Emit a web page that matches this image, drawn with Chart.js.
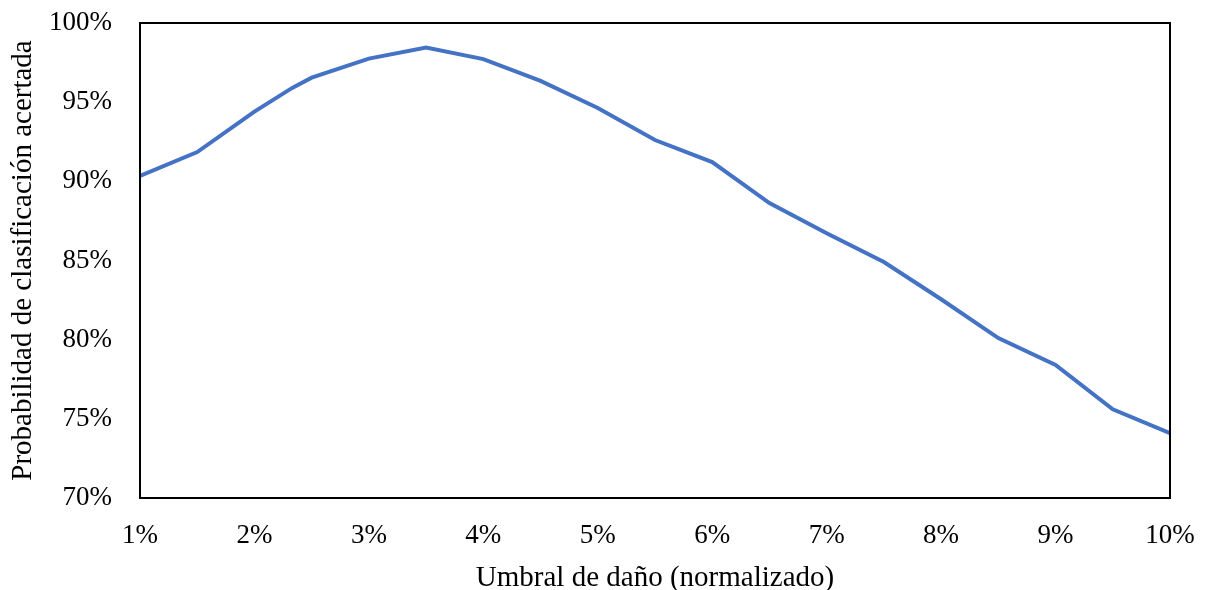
<!DOCTYPE html>
<html>
<head>
<meta charset="utf-8">
<script src="https://cdn.jsdelivr.net/npm/chart.js@4.4.1/dist/chart.umd.min.js"></script>
<style>
  html, body { margin: 0; padding: 0; background: #fff; }
  #wrap { width: 1209px; height: 590px; }
</style>
</head>
<body>
<div id="wrap"><canvas id="c" width="1209" height="590"></canvas></div>
<script>
const umbral = [1, 1.5, 2, 2.33, 2.5, 3, 3.5, 4, 4.5, 5, 5.5, 6, 6.5, 7, 7.5, 8, 8.5, 9, 9.5, 10];
const probabilidad = [90.35, 91.85, 94.4, 95.9, 96.55, 97.75, 98.45, 97.72, 96.34, 94.63, 92.61, 91.22, 88.63, 86.72, 84.9, 82.55, 80.1, 78.4, 75.6, 74.1];
const xTitle = 'Umbral de daño (normalizado)';
const yTitle = 'Probabilidad de clasificación acertada';

const frame = {
  id: 'frame',
  afterDatasetsDraw(chart) {
    const a = chart.chartArea, ctx = chart.ctx;
    ctx.save();
    ctx.strokeStyle = '#000';
    ctx.lineWidth = 2;
    ctx.strokeRect(a.left, a.top, a.right - a.left, a.bottom - a.top);
    ctx.restore();
  }
};

const fam = '"Liberation Serif", "Times New Roman", serif';
const tickFont = { family: fam, size: 27 };
const titleFont = { family: fam, size: 29 };

function zeroPad(s) { s.paddingTop = 0; s.paddingBottom = 0; s.paddingLeft = 0; s.paddingRight = 0; }

new Chart(document.getElementById('c'), {
  type: 'line',
  data: {
    datasets: [{
      data: umbral.map((x, i) => ({ x: x, y: probabilidad[i] })),
      borderColor: '#4472C4',
      borderWidth: 4,
      pointRadius: 0,
      tension: 0,
      fill: false
    }]
  },
  options: {
    responsive: false,
    animation: false,
    devicePixelRatio: 1,
    layout: { padding: { left: 0, right: 39, top: 23, bottom: 0 } },
    plugins: { legend: { display: false }, tooltip: { enabled: false } },
    scales: {
      x: {
        type: 'linear',
        min: 1, max: 10,
        grid: { display: false, drawTicks: false },
        border: { display: false },
        ticks: { stepSize: 1, color: '#000', font: tickFont, padding: 22, maxRotation: 0,
          callback: v => v + '%' },
        title: { display: true, text: xTitle, color: '#000', font: titleFont, padding: { top: 8, bottom: -6 } },
        afterFit(s) { s.height = 92; zeroPad(s); }
      },
      y: {
        type: 'linear',
        min: 70, max: 100,
        grid: { display: false, drawTicks: false },
        border: { display: false },
        ticks: { stepSize: 5, color: '#000', font: tickFont, padding: 28,
          callback: v => v + '%' },
        title: { display: true, text: yTitle, color: '#000', font: titleFont, padding: { top: 6, bottom: 0 } },
        afterFit(s) { s.width = 140; zeroPad(s); }
      }
    }
  },
  plugins: [frame]
});
</script>
</body>
</html>
